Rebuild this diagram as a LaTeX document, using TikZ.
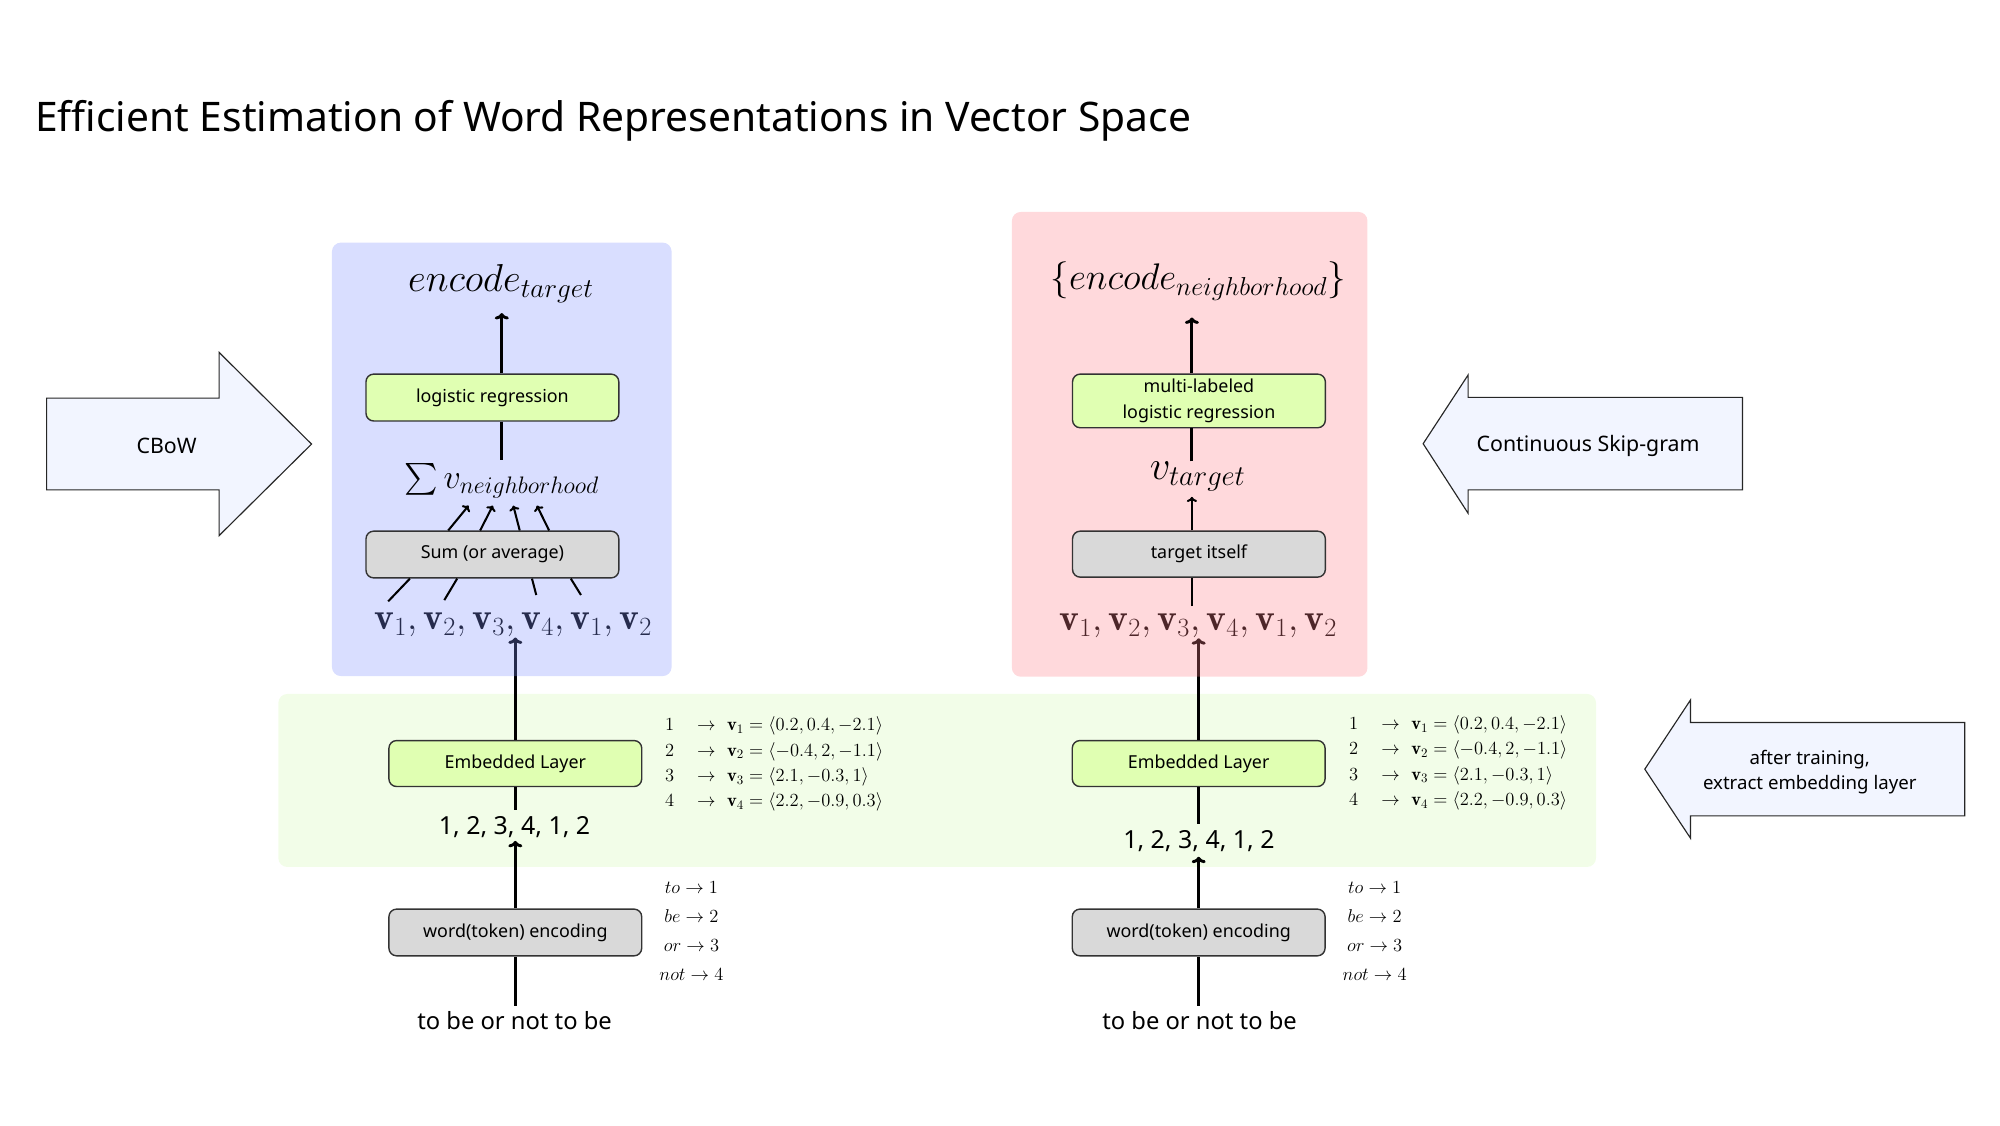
\RequirePackage{fix-cm}
\documentclass[tikz,border=0pt]{standalone}
\usepackage{amsmath}
\usepackage{fontspec}
\newfontfamily\nsans{Noto Sans}
\usetikzlibrary{arrows.meta,calc}
\definecolor{bandc}{RGB}{242,253,232}
\definecolor{boxgreen}{RGB}{224,255,178}
\definecolor{boxgray}{RGB}{217,217,217}
\definecolor{boxline}{RGB}{51,51,51}
\definecolor{arrfill}{RGB}{242,245,255}
\definecolor{pblue}{RGB}{128,145,255}
\definecolor{pred}{RGB}{255,128,138}
\begin{document}
\begin{tikzpicture}[x=1pt,y=-1pt,
  panel/.style={rounded corners=7pt, inner sep=0pt, draw=none},
  lab/.style={font=\nsans\fontsize{14}{20}\selectfont},
  box/.style={draw=boxline, line width=1.1pt, rounded corners=6pt, minimum width=198pt, minimum height=36.6pt, inner sep=0pt, lab},
  gbox/.style={box, fill=boxgreen},
  gybox/.style={box, fill=boxgray},
  big/.style={inner sep=0pt, font=\nsans\fontsize{18.6}{22}\selectfont},
  nums/.style={inner sep=0pt, font=\nsans\fontsize{19.5}{23}\selectfont},
  vec/.style={inner sep=0pt, font=\fontsize{29.4}{35}\selectfont},
  tab/.style={inner sep=0pt, font=\fontsize{14.5}{19.8}\selectfont},
  wtab/.style={inner sep=0pt, font=\fontsize{14.5}{22.6}\selectfont},
  arrlab/.style={inner sep=0pt, font=\nsans\fontsize{16.7}{20}\selectfont},
  arrlabs/.style={inner sep=0pt, font=\nsans\fontsize{14.6}{19.7}\selectfont},
  mline/.style={line width=2.3pt},
  marrow/.style={line width=2.3pt, -{Computer Modern Rightarrow[length=5pt,width=11pt]}},
  tline/.style={line width=1.6pt},
  tarrow/.style={line width=1.6pt, -{Computer Modern Rightarrow[length=4pt,width=8pt]}},
  blockarrow/.style={draw=black!85, line width=0.9pt, fill=arrfill, line join=miter}
]
\useasboundingbox (0,0) rectangle (1566.4,881.1);

% title
\node[anchor=base west, inner sep=0pt, font=\nsans\fontsize{31.9}{37}\selectfont] (title) at (27.4,103.1) {Efficient Estimation of Word Representations in Vector Space};

% green band
\node[panel, fill=bandc, minimum width=1032pt, minimum height=135.5pt] (band) at (734,611.25) {};

% ---------- left (CBoW) lower part
\node[gybox] (wencL) at (403.6,730.3) {word(token) encoding};
\node[gbox, minimum height=36pt] (embL) at (403.6,598) {Embedded Layer};
\node[big, anchor=base] (tokL) at (403,806.6) {to be or not to be};
\node[nums, anchor=base] (numL) at (403,653.9) {1, 2, 3, 4, 1, 2};
\node[vec, anchor=base] (vL) at (402,493.4) {$\mathbf{v}_1, \mathbf{v}_2, \mathbf{v}_3, \mathbf{v}_4, \mathbf{v}_1, \mathbf{v}_2$};

\node[tab, anchor=west] (etL) at (520.7,598.2) {$\begin{array}{@{}l@{\hspace{18pt}}c@{\hspace{9pt}}l@{}}
1 & \rightarrow & \mathbf{v}_1 = \langle 0.2, 0.4, -2.1\rangle\\
2 & \rightarrow & \mathbf{v}_2 = \langle -0.4, 2, -1.1\rangle\\
3 & \rightarrow & \mathbf{v}_3 = \langle 2.1, -0.3, 1\rangle\\
4 & \rightarrow & \mathbf{v}_4 = \langle 2.2, -0.9, 0.3\rangle
\end{array}$};
\node[wtab, anchor=west] (wtL) at (516.3,729.4) {$\begin{array}{@{}c@{}}
to \rightarrow 1\\ be \rightarrow 2\\ or \rightarrow 3\\ not \rightarrow 4
\end{array}$};

% ---------- right (Skip-gram) lower part
\node[gybox] (wencR) at (938.8,730.3) {word(token) encoding};
\node[gbox, minimum height=36pt] (embR) at (938.8,598) {Embedded Layer};
\node[big, anchor=base] (tokR) at (939.5,806.6) {to be or not to be};
\node[nums, anchor=base] (numR) at (939,664.3) {1, 2, 3, 4, 1, 2};
\node[vec, anchor=base] (vR) at (938.5,494) {$\mathbf{v}_1, \mathbf{v}_2, \mathbf{v}_3, \mathbf{v}_4, \mathbf{v}_1, \mathbf{v}_2$};

\node[tab, anchor=west] (etR) at (1056.5,597.2) {$\begin{array}{@{}l@{\hspace{18pt}}c@{\hspace{9pt}}l@{}}
1 & \rightarrow & \mathbf{v}_1 = \langle 0.2, 0.4, -2.1\rangle\\
2 & \rightarrow & \mathbf{v}_2 = \langle -0.4, 2, -1.1\rangle\\
3 & \rightarrow & \mathbf{v}_3 = \langle 2.1, -0.3, 1\rangle\\
4 & \rightarrow & \mathbf{v}_4 = \langle 2.2, -0.9, 0.3\rangle
\end{array}$};
\node[wtab, anchor=west] (wtR) at (1051.4,729.3) {$\begin{array}{@{}c@{}}
to \rightarrow 1\\ be \rightarrow 2\\ or \rightarrow 3\\ not \rightarrow 4
\end{array}$};

% lower connectors
\draw[mline, shorten <=4.5pt] (wencL.south |- tokL.north) -- (wencL.south);
\draw[marrow, shorten >=2pt] (wencL.north) -- (wencL.north |- numL.south);
\draw[mline, shorten >=5pt] (embL.south) -- (embL.south |- numL.north);
\draw[marrow] (embL.north) -- (embL.north |- vL.south);

\draw[mline, shorten <=4.5pt] (wencR.south |- tokR.north) -- (wencR.south);
\draw[marrow, shorten >=4pt] (wencR.north) -- (wencR.north |- numR.south);
\draw[mline, shorten >=4.4pt] (embR.south) -- (embR.south |- numR.north);
\draw[marrow] (embR.north) -- (embR.north |- vR.south);

% translucent panels (over the vectors)
\node[panel, fill=pblue, fill opacity=0.3, minimum width=266pt, minimum height=339.5pt] (pL) at (393,359.75) {};
\node[panel, fill=pred, fill opacity=0.3, minimum width=278.5pt, minimum height=364pt] (pR) at (931.75,348) {};

% ---------- left panel content
\coordinate (axL) at (393,0);
\node[gbox, minimum height=36.7pt] (lrL) at (385.65,311.35) {logistic regression};
\node[gybox] (sumL) at (385.65,434.3) {Sum (or average)};
\node[inner sep=0pt, font=\fontsize{26.7}{32}\selectfont, anchor=base] (sigL) at (393,382.4) {$\sum v_{neighborhood}$};
\node[inner sep=0pt, font=\fontsize{30.5}{36}\selectfont, anchor=base] (encL) at (392.3,228.4) {$encode_{target}$};

\draw[mline, shorten >=3pt] (axL |- lrL.south) -- (axL |- sigL.north);
\draw[marrow, shorten >=7.9pt] (axL |- lrL.north) -- (axL |- encL.south);

\coordinate (t1) at (367,396);
\coordinate (t2) at (386,396);
\coordinate (t3) at (402,396);
\coordinate (t4) at (420.5,396);
\draw[tarrow] ([xshift=-34.6pt]sumL.north) -- (t1);
\draw[tarrow] ([xshift=-9.6pt]sumL.north) -- (t2);
\draw[tarrow] ([xshift=21.4pt]sumL.north) -- (t3);
\draw[tarrow] ([xshift=44.4pt]sumL.north) -- (t4);

\coordinate (u1) at (304,471);
\coordinate (u2) at (348,470);
\coordinate (u3) at (420,466);
\coordinate (u4) at (455,466);
\draw[tline] (u1) -- ([xshift=-64.6pt]sumL.south);
\draw[tline] (u2) -- ([xshift=-27.6pt]sumL.south);
\draw[tline] (u3) -- ([xshift=31pt]sumL.south);
\draw[tline] (u4) -- ([xshift=61.4pt]sumL.south);

% ---------- right panel content
\coordinate (axR) at (933.5,0);
\node[gbox, minimum height=42pt, align=center] (mlR) at (939,314) {multi-labeled\\logistic regression};
\node[gybox, minimum height=36pt] (tgtR) at (939,434) {target itself};
\node[inner sep=0pt, font=\fontsize{32}{38}\selectfont, anchor=base] (vtR) at (938,375.3) {$v_{target}$};
\node[inner sep=0pt, font=\fontsize{29}{35}\selectfont, anchor=base] (encR) at (938.5,227) {$\{encode_{neighborhood}\}$};

\draw[tline, shorten <=6pt] (axR |- vR.north) -- (axR |- tgtR.south);
\draw[tarrow, shorten >=4.5pt] (axR |- tgtR.north) -- (axR |- vtR.south);
\draw[mline] (axR |- vtR.north) -- (axR |- mlR.south);
\draw[marrow, shorten >=13.2pt] (axR |- mlR.north) -- (axR |- encR.south);

% ---------- block arrows
\draw[blockarrow] (36.5,311.8) -- (171.6,311.8) -- (171.6,276) -- (244,347.8) -- (171.6,419.5) -- (171.6,383.7) -- (36.5,383.7) -- cycle;
\node[arrlab, anchor=base] (cbow) at (130.5,355) {CBoW};

\draw[blockarrow] (1114.6,347.5) -- (1149.8,293.7) -- (1149.8,311.2) -- (1364.7,311.2) -- (1364.7,383.7) -- (1149.8,383.7) -- (1149.8,402) -- cycle;
\node[arrlab, anchor=base] (skip) at (1243.8,353.7) {Continuous Skip-gram};

\draw[blockarrow] (1288.2,602.4) -- (1324,548.2) -- (1324,565.9) -- (1538.8,565.9) -- (1538.8,639) -- (1324,639) -- (1324,656.5) -- cycle;
\node[arrlabs, align=center] (after) at (1417.4,604.4) {after training,\\extract embedding layer};
\end{tikzpicture}
\end{document}
